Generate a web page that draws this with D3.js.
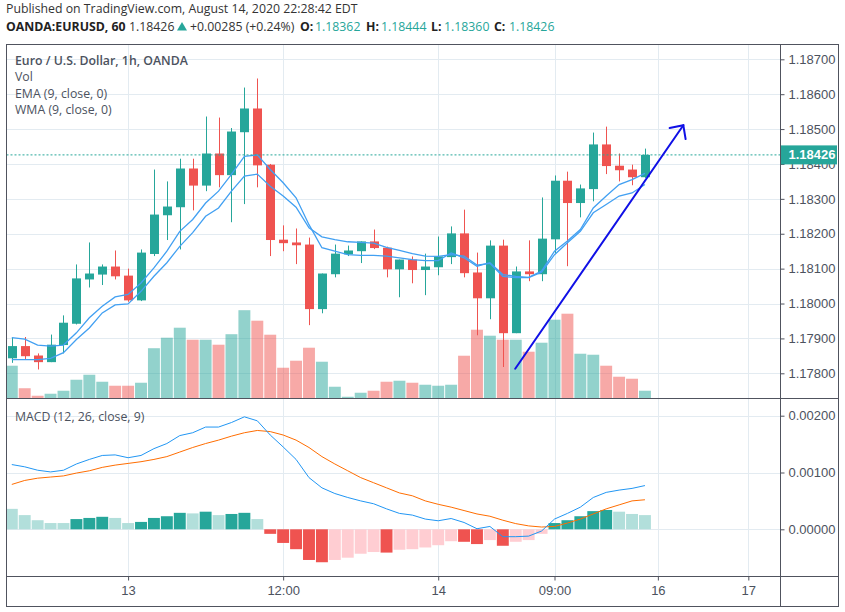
<!DOCTYPE html>
<html><head><meta charset="utf-8">
<script src="https://cdn.jsdelivr.net/npm/d3@7"></script>
<style>body{margin:0;background:#fff}svg{display:block}</style>
</head><body><svg id="c" width="845" height="612"></svg>
<script>
// ---------------- DATA ----------------
const open  = [1.17843,1.17878,1.17851,1.17832,1.17881,1.17942,1.18069,1.18083,1.18106,1.18080,1.18009,1.18142,1.18253,1.18276,1.18387,1.18338,1.18430,1.18368,1.18491,1.18559,1.18398,1.18183,1.18175,1.18169,1.17984,1.18084,1.18141,1.18150,1.18178,1.18160,1.18098,1.18126,1.18096,1.18104,1.18133,1.18201,1.18089,1.18015,1.18166,1.17915,1.18092,1.18084,1.18184,1.18352,1.18288,1.18328,1.18456,1.18395,1.18384,1.18362];
const high  = [1.17902,1.17904,1.17857,1.17911,1.17966,1.18112,1.18175,1.18112,1.18152,1.18100,1.18155,1.18384,1.18350,1.18415,1.18415,1.18536,1.18533,1.18503,1.18619,1.18645,1.18400,1.18224,1.18215,1.18189,1.18086,1.18169,1.18166,1.18178,1.18212,1.18163,1.18126,1.18135,1.18143,1.18192,1.18221,1.18269,1.18146,1.18181,1.18183,1.18106,1.18181,1.18304,1.18367,1.18378,1.18341,1.18490,1.18507,1.18430,1.18398,1.18444];
const low   = [1.17830,1.17841,1.17811,1.17832,1.17857,1.17940,1.18046,1.18053,1.18069,1.18005,1.18007,1.18136,1.18182,1.18155,1.18267,1.18322,1.18333,1.18233,1.18285,1.18333,1.18136,1.18150,1.18113,1.17938,1.17972,1.18075,1.18136,1.18116,1.18156,1.18075,1.18018,1.18058,1.18024,1.18081,1.18113,1.18075,1.17909,1.17955,1.17818,1.17915,1.18064,1.18064,1.18145,1.18107,1.18247,1.18293,1.18371,1.18350,1.18339,1.18360];
const close = [1.17878,1.17849,1.17832,1.17882,1.17945,1.18072,1.18086,1.18106,1.18078,1.18009,1.18146,1.18255,1.18278,1.18387,1.18338,1.18430,1.18368,1.18493,1.18559,1.18396,1.18182,1.18173,1.18167,1.17984,1.18086,1.18143,1.18152,1.18178,1.18159,1.18098,1.18126,1.18096,1.18106,1.18135,1.18201,1.18087,1.18015,1.18166,1.17915,1.18092,1.18084,1.18186,1.18352,1.18288,1.18330,1.18456,1.18394,1.18382,1.18362,1.18426];
const volume = [1310,410,110,190,310,750,950,670,510,510,630,2010,2430,2830,2350,2350,2150,2570,3530,3110,2550,1230,1510,2030,1470,470,70,230,310,670,710,630,550,510,550,1710,2750,2510,2350,2350,1870,2230,3150,3390,1790,1750,1310,870,790,310];
const wma = [1.17902,1.17898,1.17881,1.17878,1.17881,1.17916,1.17959,1.17992,1.18019,1.18026,1.18059,1.18102,1.18150,1.18207,1.18241,1.18288,1.18322,1.18370,1.18422,1.18426,1.18384,1.18346,1.18303,1.18226,1.18160,1.18150,1.18140,1.18138,1.18138,1.18136,1.18131,1.18126,1.18123,1.18123,1.18145,1.18131,1.18107,1.18117,1.18083,1.18078,1.18075,1.18093,1.18150,1.18179,1.18212,1.18274,1.18308,1.18341,1.18355,1.18373];
const ema = [1.17839,1.17839,1.17839,1.17843,1.17859,1.17897,1.17930,1.17973,1.17996,1.17999,1.18035,1.18078,1.18117,1.18164,1.18203,1.18250,1.18274,1.18322,1.18365,1.18371,1.18336,1.18308,1.18276,1.18217,1.18191,1.18183,1.18177,1.18175,1.18173,1.18161,1.18152,1.18143,1.18136,1.18135,1.18140,1.18136,1.18110,1.18115,1.18078,1.18074,1.18074,1.18090,1.18140,1.18174,1.18207,1.18260,1.18284,1.18308,1.18317,1.18341];
const macd = [0.00114,0.00110,0.00104,0.00101,0.00104,0.00115,0.00123,0.00130,0.00131,0.00126,0.00130,0.00142,0.00151,0.00165,0.00170,0.00180,0.00180,0.00188,0.00198,0.00191,0.00166,0.00145,0.00123,0.00091,0.00073,0.00063,0.00056,0.00050,0.00045,0.00036,0.00028,0.00025,0.00018,0.00015,0.00019,0.00012,0.00001,0.00005,-0.00013,-0.00013,-0.00012,-0.00003,0.00018,0.00028,0.00039,0.00056,0.00065,0.00069,0.00072,0.00077];
const signal = [0.00079,0.00086,0.00090,0.00092,0.00094,0.00099,0.00103,0.00109,0.00113,0.00116,0.00119,0.00123,0.00128,0.00136,0.00144,0.00151,0.00157,0.00164,0.00170,0.00174,0.00172,0.00166,0.00157,0.00144,0.00128,0.00115,0.00103,0.00091,0.00082,0.00073,0.00064,0.00059,0.00050,0.00044,0.00039,0.00033,0.00027,0.00023,0.00016,0.00010,0.00006,0.00004,0.00005,0.00011,0.00018,0.00027,0.00036,0.00043,0.00050,0.00052];
const hist = [0.00036,0.00025,0.00016,0.00011,0.00011,0.00018,0.00020,0.00022,0.00020,0.00011,0.00013,0.00020,0.00023,0.00029,0.00028,0.00031,0.00025,0.00027,0.00029,0.00018,-0.00008,-0.00024,-0.00035,-0.00054,-0.00058,-0.00054,-0.00050,-0.00043,-0.00040,-0.00041,-0.00036,-0.00035,-0.00032,-0.00028,-0.00021,-0.00022,-0.00026,-0.00019,-0.00029,-0.00022,-0.00019,-0.00008,0.00011,0.00016,0.00023,0.00032,0.00034,0.00031,0.00027,0.00025];
const timeTickIndex = [9,21,33,42,50,57];
const timeTickLabels = ["13","12:00","14","09:00","16","17"];
const priceTicks = [1.178,1.179,1.180,1.181,1.182,1.183,1.184,1.185,1.186,1.187];
const macdTicks = [0,0.001,0.002];
const lastPrice = 1.18426;
const arrowFrom = [38.96, 1.17813];
const arrowTo = [51.97, 1.18511];

// ---------------- LAYOUT ----------------
const L=6.5, R=780.5, RB=838.5, T=44.5, PB=398.5, MB=576.5, B=606.5;
const UP="#26a69a", DN="#ef5350";
const svg=d3.select("#c");
const x=d3.scaleLinear().domain([-0.41,59.49]).range([L,R]);
const y=d3.scaleLinear().domain([1.178,1.187]).range([373.3,59.3]);
const ym=d3.scaleLinear().domain([0,0.002]).range([529.3,415.7]);
const yv=d3.scaleLinear().domain([0,d3.max(volume)]).range([PB,PB-88.3]);
const step=x(1)-x(0);
const idx=d3.range(close.length);

const defs=svg.append("defs");
defs.append("clipPath").attr("id","cp").append("rect").attr("x",L).attr("y",T).attr("width",R-L).attr("height",PB-T);
defs.append("clipPath").attr("id","cm").append("rect").attr("x",L).attr("y",PB).attr("width",R-L).attr("height",MB-PB);

const grid="#e3ebf1";
const g=svg.append("g");
g.selectAll(".hg").data(priceTicks).join("line").attr("x1",L).attr("x2",R)
 .attr("y1",d=>Math.round(y(d))+0.5).attr("y2",d=>Math.round(y(d))+0.5).attr("stroke",grid);
g.selectAll(".mg").data(macdTicks).join("line").attr("x1",L).attr("x2",R)
 .attr("y1",d=>Math.round(ym(d))+0.5).attr("y2",d=>Math.round(ym(d))+0.5).attr("stroke",grid);
g.selectAll(".vg").data(timeTickIndex).join("line").attr("y1",T).attr("y2",MB)
 .attr("x1",d=>Math.round(x(d))+0.5).attr("x2",d=>Math.round(x(d))+0.5).attr("stroke",grid);

// price pane
const pp=svg.append("g").attr("clip-path","url(#cp)");
const bw=step-1;
pp.selectAll(".vol").data(idx).join("rect")
 .attr("x",i=>x(i)-bw/2).attr("width",bw)
 .attr("y",i=>yv(volume[i])).attr("height",i=>PB-yv(volume[i]))
 .attr("fill",i=>close[i]>=open[i]?"rgba(38,166,154,0.5)":"rgba(239,83,80,0.5)");
pp.selectAll(".wick").data(idx).join("line")
 .attr("x1",i=>Math.round(x(i))+0.5).attr("x2",i=>Math.round(x(i))+0.5)
 .attr("y1",i=>y(high[i])).attr("y2",i=>y(low[i]))
 .attr("stroke",i=>close[i]>=open[i]?UP:DN).attr("stroke-width",1);
const cw=9;
pp.selectAll(".body").data(idx).join("rect")
 .attr("x",i=>Math.round(x(i))+0.5-cw/2).attr("width",cw)
 .attr("y",i=>y(Math.max(open[i],close[i])))
 .attr("height",i=>Math.max(1,Math.abs(y(open[i])-y(close[i]))))
 .attr("fill",i=>close[i]>=open[i]?UP:DN);
const lineP=arr=>d3.line().x(i=>x(i)).y(i=>y(arr[i]))(idx);
pp.append("path").attr("d",lineP(ema)).attr("fill","none").attr("stroke","#42a0f2").attr("stroke-width",1.3);
pp.append("path").attr("d",lineP(wma)).attr("fill","none").attr("stroke","#42a0f2").attr("stroke-width",1.3);
pp.append("line").attr("x1",L).attr("x2",R).attr("y1",y(lastPrice)).attr("y2",y(lastPrice))
 .attr("stroke",UP).attr("stroke-dasharray","2,2");
// arrow annotation
const ax1=x(arrowFrom[0]), ay1=y(arrowFrom[1]), ax2=x(arrowTo[0]), ay2=y(arrowTo[1]);
const ang=Math.atan2(ay1-ay2, ax1-ax2), hl=14, ha=44*Math.PI/180;
const arrowG=svg.append("g").attr("stroke","#1010e6").attr("stroke-width",2).attr("fill","none").attr("stroke-linecap","round");
arrowG.append("line").attr("x1",ax1).attr("y1",ay1).attr("x2",ax2).attr("y2",ay2);
arrowG.append("path").attr("d",`M${ax2+hl*Math.cos(ang+ha)},${ay2+hl*Math.sin(ang+ha)}L${ax2},${ay2}L${ax2+hl*Math.cos(ang-ha)},${ay2+hl*Math.sin(ang-ha)}`);

// macd pane
const mp=svg.append("g").attr("clip-path","url(#cm)");
mp.selectAll(".h").data(idx).join("rect")
 .attr("x",i=>x(i)-bw/2).attr("width",bw)
 .attr("y",i=>Math.min(ym(hist[i]),ym(0))).attr("height",i=>Math.abs(ym(hist[i])-ym(0)))
 .attr("fill",i=>{const prev=i>0?hist[i-1]:Infinity;const rising=hist[i]>prev;
   return hist[i]>=0?(rising?"#26a69a":"#b2dfdb"):(rising?"#ffcdd2":"#ef5350");});
const lineM=arr=>d3.line().x(i=>x(i)).y(i=>ym(arr[i]))(idx);
mp.append("path").attr("d",lineM(signal)).attr("fill","none").attr("stroke","#ff6d00").attr("stroke-width",1);
mp.append("path").attr("d",lineM(macd)).attr("fill","none").attr("stroke","#2196f3").attr("stroke-width",1);

// axes
const axisFont="'Liberation Sans Narrow','Arial Narrow','Liberation Sans',sans-serif";
const ay=svg.append("g").attr("transform",`translate(${R},0)`)
 .call(d3.axisRight(y).tickValues(priceTicks).tickFormat(d3.format(".5f")).tickSize(4).tickPadding(4));
const am=svg.append("g").attr("transform",`translate(${R},0)`)
 .call(d3.axisRight(ym).tickValues(macdTicks).tickFormat(d3.format(".5f")).tickSize(4).tickPadding(4));
const axb=svg.append("g").attr("transform",`translate(0,${MB})`)
 .call(d3.axisBottom(x).tickValues(timeTickIndex).tickFormat((d,i)=>timeTickLabels[i]).tickSize(4).tickPadding(5));
[ay,am,axb].forEach(a=>{a.select(".domain").remove();
 a.selectAll("line").attr("stroke","#50535e");
 a.selectAll("text").attr("fill","#4c525e").style("font-family",axisFont).style("font-size","13px");});

// last price label
const lp=svg.append("g");
lp.append("rect").attr("x",R).attr("y",y(lastPrice)-9.5).attr("width",RB-R-1.5).attr("height",19).attr("fill",UP);
lp.append("text").attr("x",R+8).attr("y",y(lastPrice)).attr("dy","0.35em").text(d3.format(".5f")(lastPrice))
 .attr("fill","#fff").style("font-family",axisFont).style("font-size","13px").style("font-weight","bold");

// borders
const bc="#50535e";
const bd=svg.append("g").attr("stroke",bc).attr("fill","none");
bd.append("rect").attr("x",L).attr("y",T).attr("width",RB-L).attr("height",B-T);
bd.append("line").attr("x1",R).attr("x2",R).attr("y1",T).attr("y2",B);
bd.append("line").attr("x1",L).attr("x2",RB).attr("y1",PB).attr("y2",PB);
bd.append("line").attr("x1",L).attr("x2",RB).attr("y1",MB).attr("y2",MB);

// texts
const tf="'Open Sans','Noto Sans',sans-serif";
const fs="12.3px";
svg.append("text").attr("x",6).attr("y",12.5).text("Published on TradingView.com, August 14, 2020 22:28:42 EDT")
 .attr("fill","#333").style("font-family",tf).style("font-size",fs);
const parts=[["OANDA:EURUSD, 60","#222",700,6],["1.18426","#333",400,129],["+0.00285 (+0.24%)","#333",400,190],
 ["O:","#222",700,300],["1.18362",UP,400,315],["H:","#222",700,366],["1.18444",UP,400,381],["L:","#222",700,431],["1.18360",UP,400,444],["C:","#222",700,494],["1.18426",UP,400,509]];
parts.forEach(p=>svg.append("text").attr("x",p[3]).attr("y",30.5).text(p[0]).attr("fill",p[1])
 .style("font-family",tf).style("font-size",fs).style("font-weight",p[2]));
// up-triangle change icon
svg.append("path").attr("d","M177,30.5L187,30.5L182,22Z").attr("fill",UP);
const leg=[["Euro / U.S. Dollar, 1h, OANDA",64.5,600],["Vol",81,400],["EMA (9, close, 0)",97.5,400],["WMA (9, close, 0)",114,400],["MACD (12, 26, close, 9)",420.5,400]];
leg.forEach(l=>svg.append("text").attr("x",15).attr("y",l[1]).text(l[0]).attr("fill","#4c525e")
 .style("font-family",tf).style("font-size",fs).style("font-weight",l[2]));
</script></body></html>
